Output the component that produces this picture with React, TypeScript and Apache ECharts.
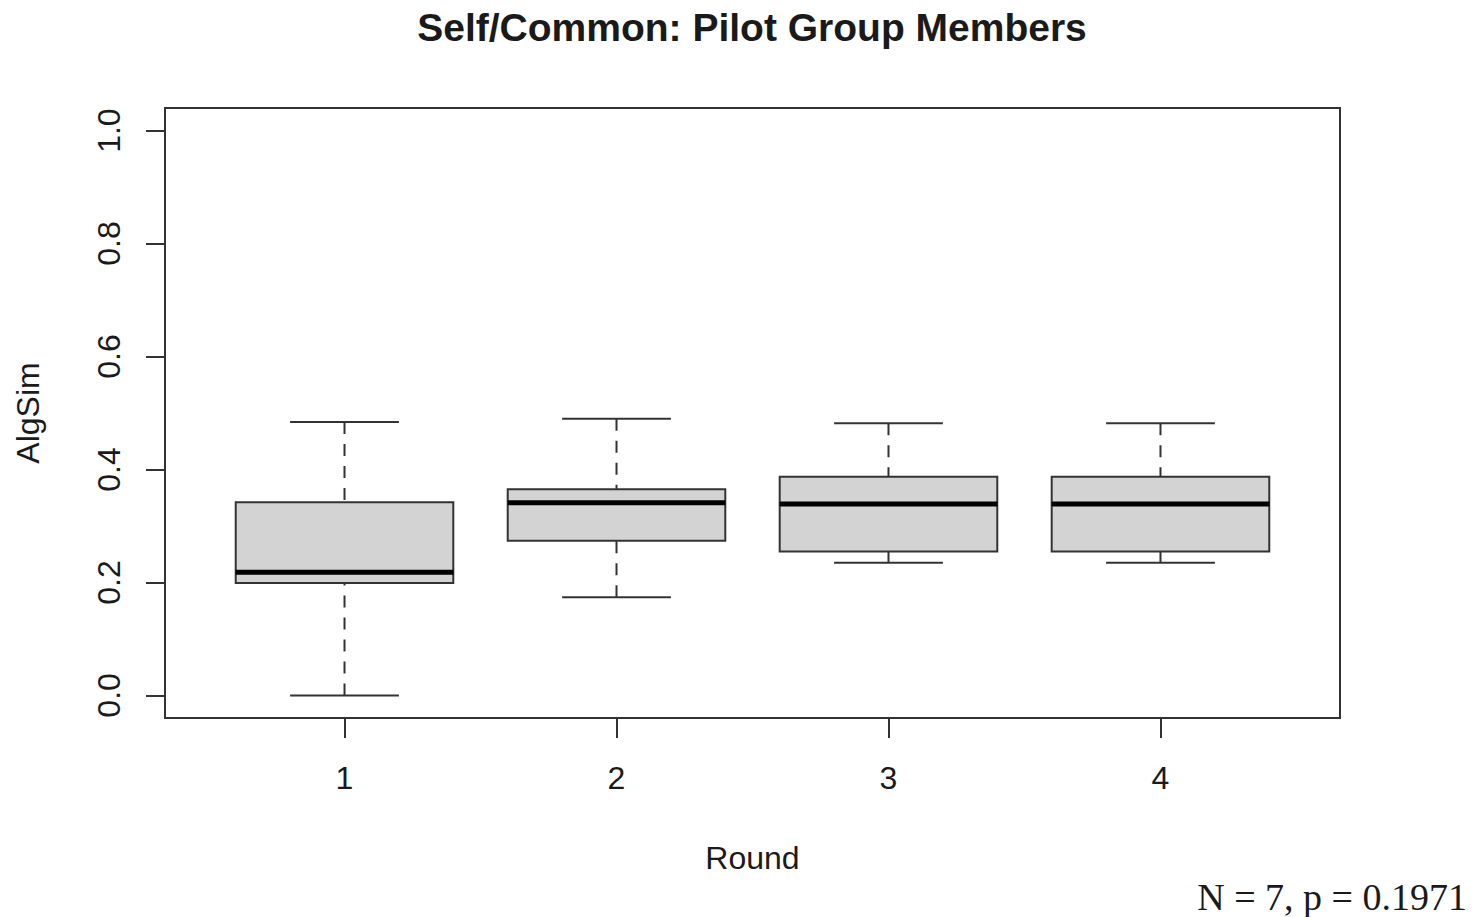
import React, { useEffect, useRef } from "react";
import * as echarts from "echarts";

const rounds = [1, 2, 3, 4];
const whiskerLow = [0.0, 0.174, 0.235, 0.235];
const quartile1 = [0.199, 0.274, 0.255, 0.255];
const medians = [0.218, 0.341, 0.339, 0.339];
const quartile3 = [0.342, 0.365, 0.387, 0.387];
const whiskerHigh = [0.484, 0.49, 0.482, 0.482];
const yTicks = [0, 0.2, 0.4, 0.6, 0.8, 1.0];
const titleText = "Self/Common: Pilot Group Members";
const xName = "Round";
const yName = "AlgSim";
const noteText = "N = 7, p = 0.1971";

export default function App() {
  const ref = useRef<HTMLDivElement>(null);
  useEffect(() => {
    if (!ref.current) return;
    const chart = echarts.init(ref.current, null, { renderer: "svg" });
    const data = rounds.map((r, i) => [
      r,
      whiskerLow[i],
      quartile1[i],
      medians[i],
      quartile3[i],
      whiskerHigh[i],
    ]);
    const ink = "#1a1a1a";
    const lineInk = "#333";
    const font = "'Liberation Sans', Arial, Helvetica, sans-serif";
    chart.setOption({
      animation: false,
      backgroundColor: "#fff",
      grid: {
        left: 165,
        right: 135,
        top: 108,
        bottom: 199,
        show: true,
        borderColor: lineInk,
        borderWidth: 2,
        backgroundColor: "transparent",
      },
      xAxis: {
        type: "value",
        min: 0.34,
        max: 4.66,
        splitLine: { show: false },
        axisLine: { show: false, onZero: false },
        axisTick: {
          show: true,
          customValues: rounds,
          length: 20,
          lineStyle: { color: lineInk, width: 2 },
        },
        axisLabel: {
          customValues: rounds,
          fontSize: 32,
          fontFamily: font,
          color: ink,
          margin: 44,
          formatter: (v: number) => String(v),
        },
        name: xName,
        nameLocation: "middle",
        nameGap: 124,
        nameTextStyle: { fontSize: 32, fontFamily: font, color: ink },
      },
      yAxis: {
        type: "value",
        min: -0.04,
        max: 1.04,
        splitLine: { show: false },
        axisLine: { show: false, onZero: false },
        axisTick: {
          show: true,
          customValues: yTicks,
          length: 19,
          lineStyle: { color: lineInk, width: 2 },
        },
        axisLabel: {
          customValues: yTicks,
          rotate: 90,
          fontSize: 32,
          fontFamily: font,
          color: ink,
          margin: 40,
          formatter: (v: number) => v.toFixed(1),
        },
        name: yName,
        nameLocation: "middle",
        nameGap: 121,
        nameTextStyle: { fontSize: 32, fontFamily: font, color: ink },
      },
      graphic: [
        {
          type: "text",
          x: 752,
          y: 27,
          style: {
            text: titleText,
            font: `bold 39px ${font}`,
            fill: ink,
            align: "center",
            verticalAlign: "middle",
          },
        },
        {
          type: "text",
          x: 1467,
          y: 897,
          style: {
            text: noteText,
            font: "38px 'Liberation Serif', 'Times New Roman', serif",
            fill: ink,
            align: "right",
            verticalAlign: "middle",
          },
        },
      ],
      series: [
        {
          type: "custom",
          data,
          encode: { x: 0, y: [1, 2, 3, 4, 5] },
          renderItem: (params: any, api: any) => {
            const x = api.value(0);
            const lo = api.coord([x, api.value(1)]);
            const q1 = api.coord([x, api.value(2)]);
            const md = api.coord([x, api.value(3)]);
            const q3 = api.coord([x, api.value(4)]);
            const hi = api.coord([x, api.value(5)]);
            const halfBox = api.size([0.4, 0])[0];
            const halfCap = api.size([0.2, 0])[0];
            const cx = lo[0];
            const lineStyle = { stroke: lineInk, lineWidth: 2 };
            const dashStyle = { stroke: lineInk, lineWidth: 2, lineDash: [12, 10] };
            return {
              type: "group",
              children: [
                {
                  type: "line",
                  shape: { x1: cx, y1: hi[1], x2: cx, y2: q3[1] },
                  style: dashStyle,
                },
                {
                  type: "line",
                  shape: { x1: cx, y1: lo[1], x2: cx, y2: q1[1] },
                  style: dashStyle,
                },
                {
                  type: "line",
                  shape: { x1: cx - halfCap, y1: hi[1], x2: cx + halfCap, y2: hi[1] },
                  style: lineStyle,
                },
                {
                  type: "line",
                  shape: { x1: cx - halfCap, y1: lo[1], x2: cx + halfCap, y2: lo[1] },
                  style: lineStyle,
                },
                {
                  type: "rect",
                  shape: {
                    x: cx - halfBox,
                    y: q3[1],
                    width: halfBox * 2,
                    height: q1[1] - q3[1],
                  },
                  style: { fill: "#d3d3d3", stroke: lineInk, lineWidth: 2 },
                },
                {
                  type: "line",
                  shape: { x1: cx - halfBox, y1: md[1], x2: cx + halfBox, y2: md[1] },
                  style: { stroke: "#000", lineWidth: 5 },
                },
              ],
            };
          },
        },
      ],
    });
    return () => chart.dispose();
  }, []);
  return (
    <div
      ref={ref}
      style={{ position: "fixed", left: 0, top: 0, width: 1475, height: 917 }}
    />
  );
}
